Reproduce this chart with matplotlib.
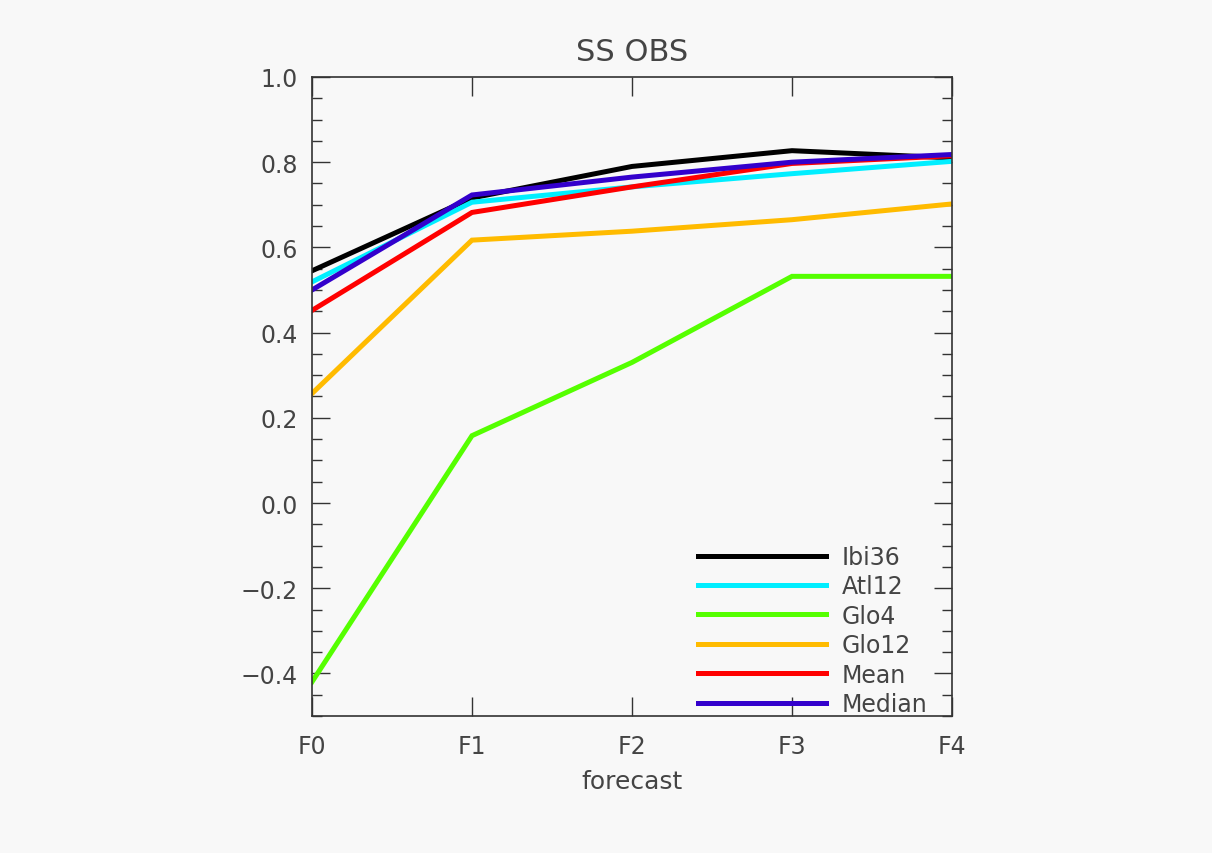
import matplotlib.pyplot as plt
from matplotlib.ticker import MultipleLocator

forecasts = ['F0', 'F1', 'F2', 'F3', 'F4']
ibi36 = [0.545, 0.716, 0.790, 0.827, 0.810]
atl12 = [0.519, 0.706, 0.742, 0.773, 0.802]
glo4 = [-0.420, 0.158, 0.330, 0.532, 0.532]
glo12 = [0.257, 0.617, 0.638, 0.665, 0.702]
mean = [0.452, 0.682, 0.742, 0.797, 0.815]
median = [0.500, 0.723, 0.765, 0.800, 0.818]

names = ['Ibi36', 'Atl12', 'Glo4', 'Glo12', 'Mean', 'Median']
colors = ['#000000', '#00eeff', '#55ff00', '#ffbb00', '#ff0000', '#3300cc']

bg = '#f8f8f8'
txt = '#444444'
plt.rcParams['font.family'] = 'DejaVu Sans'
fig = plt.figure(figsize=(12.12, 8.54), dpi=100, facecolor=bg)
ax = fig.add_axes([0.2574, 0.1604, 0.5281, 0.7483], facecolor=bg)

x = range(len(forecasts))
for vals, name, c in zip([ibi36, atl12, glo4, glo12, mean, median], names, colors):
    ax.plot(x, vals, color=c, lw=3.6, label=name, solid_joinstyle='miter')

ax.set_xlim(0, 4)
ax.set_ylim(-0.5, 1.0)
ax.set_xticks(list(x))
ax.set_xticklabels(forecasts)
ax.yaxis.set_minor_locator(MultipleLocator(0.05))
ax.set_yticks([-0.4, -0.2, 0.0, 0.2, 0.4, 0.6, 0.8, 1.0])
ax.set_yticklabels(['\u22120.4', '\u22120.2', '0.0', '0.2', '0.4', '0.6', '0.8', '1.0'])
ax.tick_params(which='both', direction='in', top=True, right=True, labelsize=17,
               color='#333333', labelcolor=txt, width=1)
ax.tick_params(axis='y', which='major', length=13, pad=10)
ax.tick_params(axis='y', which='minor', length=7)
ax.tick_params(axis='x', which='major', length=14, pad=13)
for s in ax.spines.values():
    s.set_color('#333333')
    s.set_linewidth(1.2)

ax.set_title('SS OBS', fontsize=22, color=txt, pad=12)
ax.set_xlabel('forecast', fontsize=18, color=txt, labelpad=8)

ax.legend(loc='lower right', bbox_to_anchor=(0.962, 0.0), frameon=False,
          borderaxespad=0, borderpad=0,
          fontsize=17, handlelength=5.4, handletextpad=0.68, labelspacing=0.23,
          labelcolor=txt)

fig.savefig('out.png', dpi=100, facecolor=bg)
